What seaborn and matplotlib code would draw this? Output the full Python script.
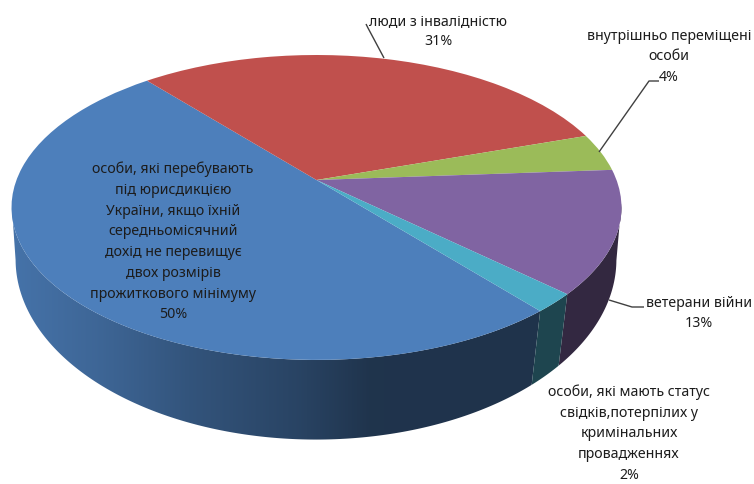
import numpy as np
import matplotlib
matplotlib.use("Agg")
import matplotlib.pyplot as plt
from matplotlib.patches import Polygon
from matplotlib.transforms import Transform
import seaborn as sns

categories = [
    "особи, які перебувають\nпід юрисдикцією\nУкраїни, якщо їхній\nсередньомісячний\nдохід не перевищує\nдвох розмірів\nпрожиткового мінімуму",
    "люди з інвалідністю",
    "внутрішньо переміщені\nособи",
    "ветерани війни",
    "особи, які мають статус\nсвідків,потерпілих у\nкримінальних\nпровадженнях",
]
values = [50, 31, 4, 13, 2]
slice_colors = ["#4D7FBB", "#C0504D", "#9BBB59", "#8064A2", "#4BACC6"]
label_positions = [(173, 242), (438, 31.5), (669, 57), (699, 313.5), (629, 433.5)]

sns.set_theme(style="white")
plt.rcParams["font.family"] = ["Noto Sans", "DejaVu Sans"]


class Perspective(Transform):
    """Unit circle -> tilted disc, in pixel-like axes units."""
    input_dims = output_dims = 2

    def __init__(self, xc, yc, bx, ay, k):
        super().__init__()
        self.p = (xc, yc, bx, ay, k)

    def transform_non_affine(self, v):
        xc, yc, bx, ay, k = self.p
        v = np.asarray(v, dtype=float)
        w = 1 + k * v[:, 1]
        return np.column_stack([xc + bx * v[:, 0] / w, yc - ay * v[:, 1] / w])


top = Perspective(316.5, 180, 300, 147.5, 0.18)
bottom = Perspective(316, 232.5, 297, 176, 0.15)

fig, ax = plt.subplots(figsize=(7.54, 4.84), dpi=100)
fig.subplots_adjust(0, 0, 1, 1)
palette = sns.color_palette(slice_colors)

wedges, _ = ax.pie(values, colors=palette, startangle=-50, counterclock=False)
for w in wedges:
    w.set_transform(top + ax.transData)
    w.set_zorder(5)
    w.set_linewidth(0)

# side wall: each slice's rim band filled with a left-to-right shading
shade_x = [15, 100, 190, 300, 370, 620]
shade_f = [0.90, 0.80, 0.66, 0.53, 0.41, 0.40]
for w, col in zip(wedges, palette):
    a0, a1 = sorted((w.theta1, w.theta2))
    th = np.radians(np.linspace(a0, a1, int((a1 - a0) * 2) + 2))
    th = th[np.sin(th) < -0.15]
    if th.size < 2:
        continue
    ring = np.column_stack([np.cos(th), np.sin(th)])
    poly = np.vstack([top.transform(ring), bottom.transform(ring[::-1])])
    x0, x1 = poly[:, 0].min(), poly[:, 0].max()
    y0, y1 = poly[:, 1].min(), poly[:, 1].max()
    xs = np.linspace(x0, x1, 400)
    grad = np.interp(xs, shade_x, shade_f)[None, :, None] * np.array(col)[None, None, :]
    im = ax.imshow(grad, extent=[x0, x1, y1, y0], aspect="auto", zorder=2,
                   interpolation="bilinear")
    im.set_clip_path(Polygon(poly, closed=True, transform=ax.transData))

ax.set_aspect("auto")
ax.set_xlim(0, 754)
ax.set_ylim(484, 0)
ax.axis("off")

# labels
for cat, val, (x, y) in zip(categories, values, label_positions):
    ax.text(x, y, f"{cat}\n{val}%", ha="center", va="center", fontsize=10.2,
            color="#1c1c1c", linespacing=1.52, zorder=7)

# leader lines
leaders = [
    ([366, 368, 384], [24, 28, 58]),
    ([659, 649, 599], [81, 81, 152]),
    ([644, 632, 609], [307, 307, 300]),
]
for lx, ly in leaders:
    ax.plot(lx, ly, color="#404040", lw=1.0, zorder=6, solid_capstyle="butt")

fig.savefig("out.png", dpi=100)
